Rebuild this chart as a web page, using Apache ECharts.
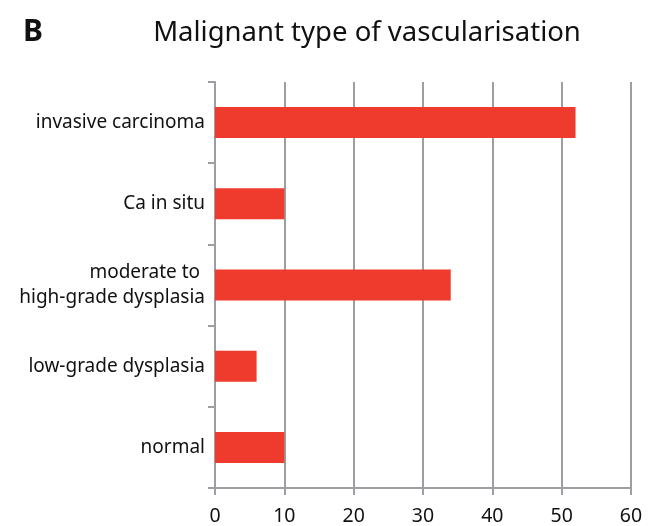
<!DOCTYPE html>
<html>
<head>
<meta charset="utf-8">
<script src="https://cdn.jsdelivr.net/npm/echarts@6/dist/echarts.min.js"></script>
<style>
  html, body { margin: 0; padding: 0; background: #fff; }
  #chart { width: 653px; height: 526px; }
</style>
</head>
<body>
<div id="chart"></div>
<script>
// categories bottom to top, as ECharts draws a category y axis
const categories = ['normal', 'low-grade dysplasia', 'moderate to \nhigh-grade dysplasia', 'Ca in situ', 'invasive carcinoma']
const counts = [10, 6, 34, 10, 52]
const xTicks = [0, 10, 20, 30, 40, 50, 60]

const chart = echarts.init(document.getElementById('chart'))
const font = 'Noto Sans'
const gray = '#9b9ea2'

chart.setOption({
  animation: false,
  title: [
    {
      text: 'Malignant type of vascularisation',
      left: 362,
      top: 14,
      textAlign: 'center',
      textStyle: { fontFamily: font, fontSize: 27.5, fontWeight: 'normal', color: '#111' }
    },
    {
      text: 'B',
      left: 18,
      top: 12,
      textStyle: { fontFamily: font, fontSize: 30, fontWeight: 'bold', color: '#111' }
    }
  ],
  grid: { left: 215, right: 22, top: 82, bottom: 38, containLabel: false },
  xAxis: {
    type: 'value',
    min: xTicks[0],
    max: xTicks[xTicks.length - 1],
    interval: 10,
    axisLine: { show: true, lineStyle: { color: gray, width: 2 } },
    axisTick: { show: true, length: 7, lineStyle: { color: gray, width: 2 } },
    axisLabel: { fontFamily: font, fontSize: 19.5, color: '#111', margin: 18 },
    splitLine: { show: true, lineStyle: { color: gray, width: 2 } }
  },
  yAxis: {
    type: 'category',
    data: categories,
    axisLine: { show: true, lineStyle: { color: gray, width: 2 } },
    axisTick: { show: true, length: 7, alignWithLabel: false, lineStyle: { color: gray, width: 2 } },
    axisLabel: { fontFamily: font, fontSize: 19, color: '#111', margin: 10, lineHeight: 25, align: 'right' },
    splitLine: { show: false }
  },
  series: [
    {
      type: 'bar',
      data: counts,
      barWidth: 31,
      itemStyle: { color: '#ef3b2d' }
    }
  ]
})
</script>
</body>
</html>
